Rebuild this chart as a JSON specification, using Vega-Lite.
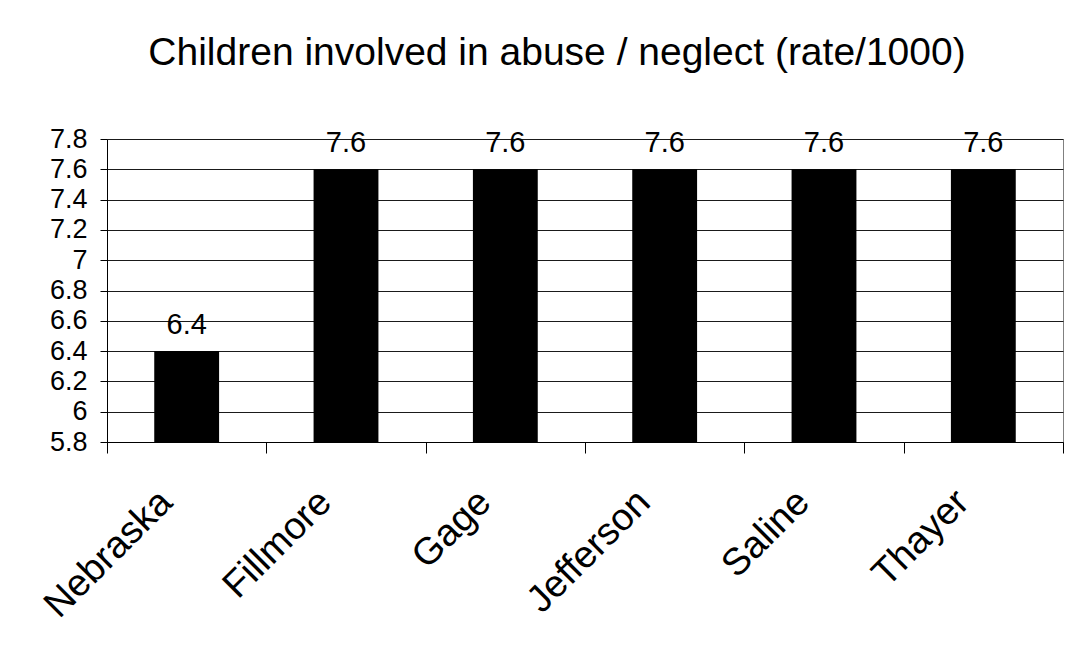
{
  "$schema": "https://vega.github.io/schema/vega-lite/v6.json",
  "autosize": {"type": "none"},
  "padding": {"left": 107, "top": 139, "right": 9, "bottom": 206},
  "width": 956,
  "height": 303,
  "background": "white",
  "title": {
    "text": "Children involved in abuse / neglect (rate/1000)",
    "font": "Liberation Sans",
    "fontSize": 39,
    "fontWeight": "normal",
    "color": "black",
    "anchor": "middle",
    "frame": "group",
    "baseline": "alphabetic",
    "dx": -28,
    "offset": 21
  },
  "data": {
    "values": [
      {"county": "Nebraska", "rate": 6.4},
      {"county": "Fillmore", "rate": 7.6},
      {"county": "Gage", "rate": 7.6},
      {"county": "Jefferson", "rate": 7.6},
      {"county": "Saline", "rate": 7.6},
      {"county": "Thayer", "rate": 7.6}
    ]
  },
  "encoding": {
    "x": {
      "field": "county",
      "type": "nominal",
      "sort": null,
      "title": null,
      "scale": {"paddingInner": 0, "paddingOuter": 0},
      "axis": {
        "domainColor": "black",
        "tickColor": "black",
        "tickSize": 11,
        "tickBand": "extent",
        "labelAngle": -45,
        "labelAlign": "right",
        "labelBaseline": "alphabetic",
        "labelFont": "Liberation Sans",
        "labelFontSize": 38,
        "labelColor": "black",
        "labelOffset": -13,
        "labelPadding": 51,
        "grid": false
      }
    },
    "y": {
      "field": "rate",
      "type": "quantitative",
      "title": null,
      "scale": {"domain": [5.8, 7.8], "zero": false, "nice": false},
      "axis": {
        "values": [5.8, 6, 6.2, 6.4, 6.6, 6.8, 7, 7.2, 7.4, 7.6, 7.8],
        "format": "~g",
        "domainColor": "black",
        "tickColor": "black",
        "tickSize": 7,
        "labelPadding": 13,
        "labelFont": "Liberation Sans",
        "labelFontSize": 27,
        "labelColor": "black",
        "grid": true,
        "gridColor": "#1a1a1a",
        "gridWidth": 1
      }
    }
  },
  "layer": [
    {
      "mark": {"type": "bar", "color": "black", "width": {"band": 0.407}},
      "encoding": {"y2": {"datum": 5.8}}
    },
    {
      "mark": {
        "type": "text",
        "font": "Liberation Sans",
        "fontSize": 29,
        "color": "black",
        "baseline": "alphabetic",
        "dy": -17
      },
      "encoding": {"text": {"field": "rate", "type": "quantitative", "format": ".1f"}}
    }
  ],
  "config": {
    "view": {"stroke": "#808080", "strokeWidth": 1}
  }
}
